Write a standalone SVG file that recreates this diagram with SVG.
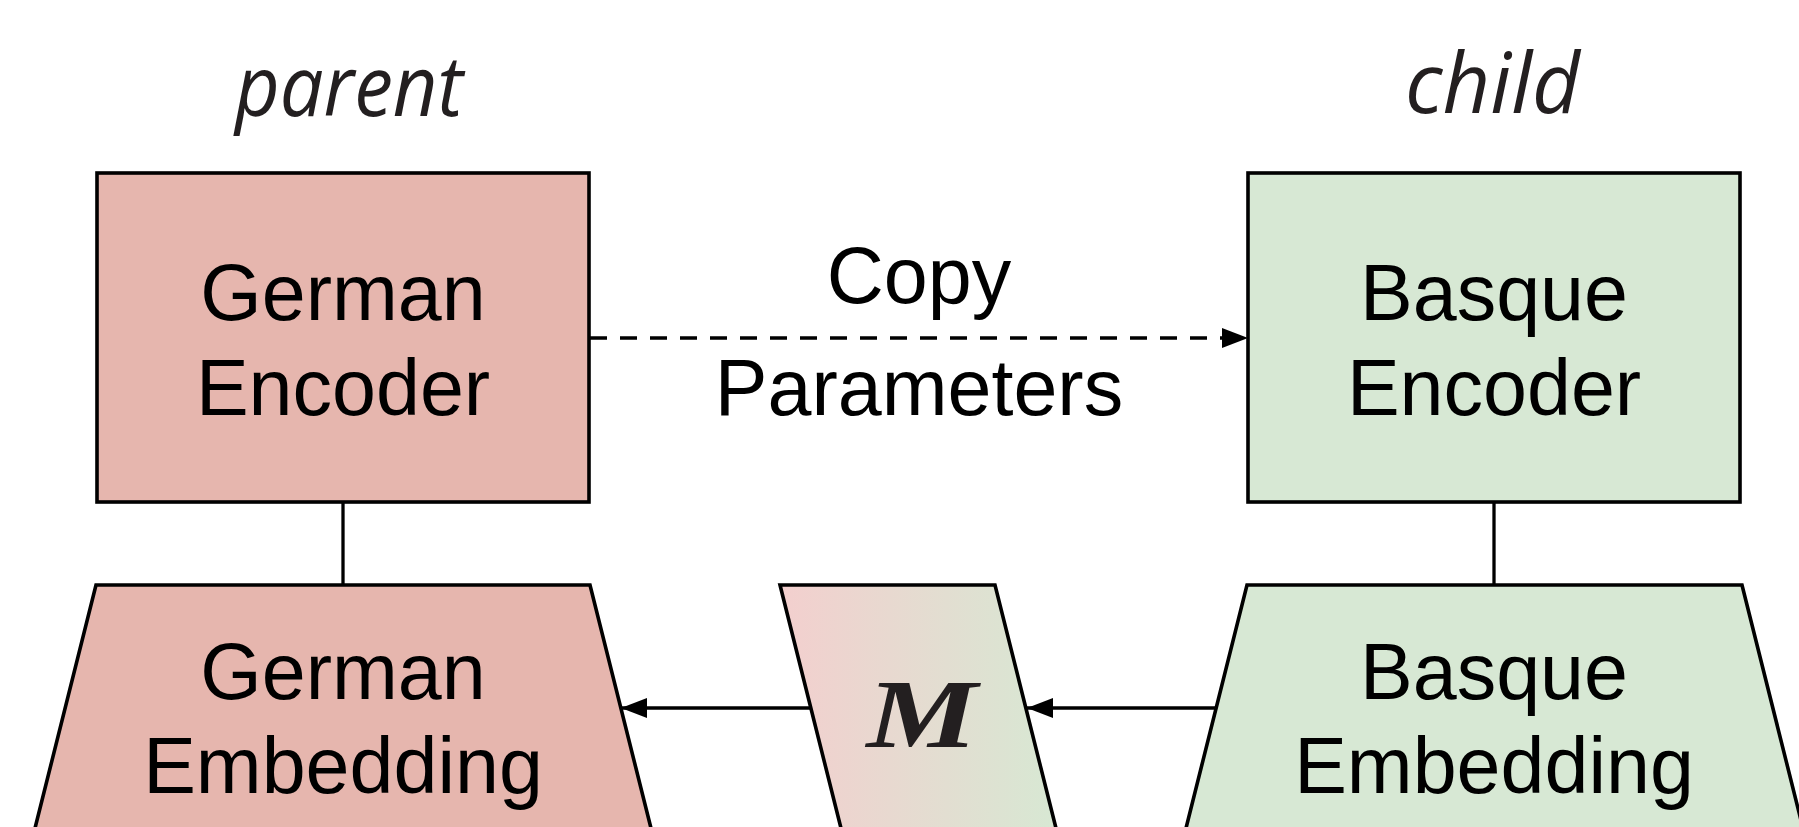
<svg xmlns="http://www.w3.org/2000/svg" width="1799" height="827" viewBox="0 0 1799 827">
  <style>
    .shape { stroke: #000; stroke-width: 3.6; stroke-linejoin: miter; }
    .parent { fill: #e6b6ae; }
    .child { fill: #d7e8d4; }
    .label { font-family: "Liberation Sans", Arial, sans-serif; font-size: 79px; fill: #000; text-anchor: middle; }
    .role { font-family: "Open Sans", "DejaVu Sans", sans-serif; font-style: italic; font-size: 84px; fill: #231f20; }
    .edge { stroke: #000; stroke-width: 3.3; fill: none; }
    .dashed { stroke-dasharray: 17 13; }
  </style>
  <defs>
    <marker id="arrow" markerUnits="userSpaceOnUse" markerWidth="26" markerHeight="20" refX="26" refY="10" orient="auto">
      <path d="M0,0 L26,10 L0,20 Z" fill="#000"/>
    </marker>
    <linearGradient id="mapFill" gradientUnits="userSpaceOnUse" x1="780" y1="0" x2="1057" y2="0">
      <stop offset="0" stop-color="#f3cfce"/>
      <stop offset="1" stop-color="#d7e8d3"/>
    </linearGradient>
  </defs>

  <rect width="1799" height="827" fill="#fff"/>

  <!-- column headings -->
  <g id="heading-parent">
    <text class="role" x="235" y="116" textLength="228" lengthAdjust="spacingAndGlyphs">parent</text>
  </g>
  <g id="heading-child">
    <text class="role" x="1405" y="113" textLength="175" lengthAdjust="spacingAndGlyphs">child</text>
  </g>

  <!-- connectors -->
  <g id="connectors">
    <line class="edge" x1="343" y1="502" x2="343" y2="585"/>
    <line class="edge" x1="1494" y1="502" x2="1494" y2="585"/>
    <line class="edge dashed" x1="590" y1="338" x2="1248" y2="338" marker-end="url(#arrow)"/>
    <line class="edge" x1="1216" y1="708" x2="1027" y2="708" marker-end="url(#arrow)"/>
    <line class="edge" x1="812" y1="708" x2="621" y2="708" marker-end="url(#arrow)"/>
  </g>

  <g id="copy-label">
    <text class="label" x="919" y="303">Copy</text>
    <text class="label" x="919" y="415">Parameters</text>
  </g>

  <!-- encoders -->
  <g id="german-encoder">
    <rect class="shape parent" x="97" y="173" width="492" height="329"/>
    <text class="label" x="343" y="320">German</text>
    <text class="label" x="343" y="415">Encoder</text>
  </g>
  <g id="basque-encoder">
    <rect class="shape child" x="1248" y="173" width="492" height="329"/>
    <text class="label" x="1494" y="320">Basque</text>
    <text class="label" x="1494" y="415">Encoder</text>
  </g>

  <!-- embeddings (run past the lower edge) -->
  <g id="german-embedding">
    <polygon class="shape parent" points="96,585 590,585 669,900 17,900"/>
    <text class="label" x="343" y="699">German</text>
    <text class="label" x="343" y="793">Embedding</text>
  </g>
  <g id="basque-embedding">
    <polygon class="shape child" points="1247,585 1742,585 1821,900 1168,900"/>
    <text class="label" x="1494" y="699">Basque</text>
    <text class="label" x="1494" y="793">Embedding</text>
  </g>

  <!-- mapping matrix -->
  <g id="mapping">
    <polygon class="shape" fill="url(#mapFill)" points="780,585 995,585 1074,900 859,900"/>
    <text x="922" y="747" text-anchor="middle" font-family="'Liberation Serif', 'Times New Roman', serif" font-weight="bold" font-style="italic" font-size="97" fill="#231f20" textLength="111" lengthAdjust="spacingAndGlyphs">M</text>
  </g>
</svg>
